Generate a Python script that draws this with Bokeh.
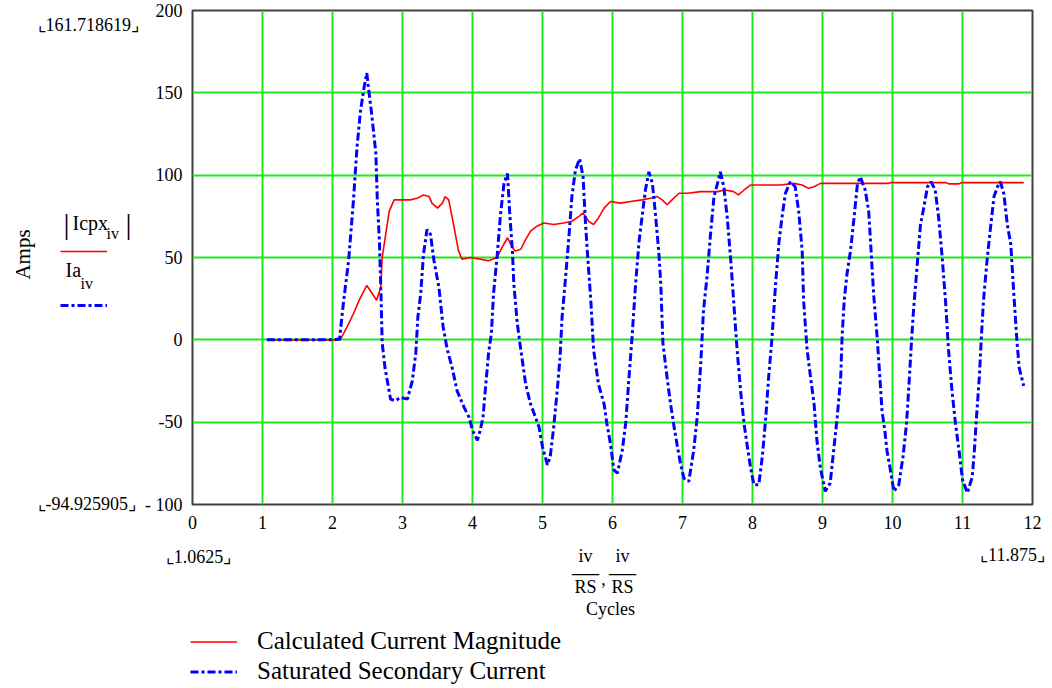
import math
from bokeh.plotting import figure
from bokeh.models import FixedTicker, Label, Legend, LegendItem, Range1d
from bokeh.layouts import column, row
from bokeh.embed import file_html
from bokeh.resources import INLINE

# ---------------- data ----------------
x_icpx = [1.0625, 2.0, 2.11, 2.21, 2.30, 2.38, 2.49, 2.57, 2.63, 2.69, 2.71, 2.76, 2.81, 2.88,
          2.97, 3.11, 3.21, 3.30, 3.38, 3.42, 3.50, 3.57, 3.61, 3.66, 3.73, 3.80, 3.85, 3.97,
          4.11, 4.23, 4.35, 4.42, 4.50, 4.57, 4.61, 4.69, 4.76, 4.83, 4.92, 5.02, 5.16, 5.30,
          5.42, 5.52, 5.58, 5.66, 5.73, 5.80, 5.88, 5.97, 6.11, 6.26, 6.42, 6.54, 6.64, 6.71,
          6.78, 6.85, 6.95, 7.07, 7.26, 7.38, 7.50, 7.61, 7.73, 7.80, 7.88, 7.97, 8.16, 8.40,
          8.59, 8.71, 8.80, 8.88, 8.97, 9.45, 9.95, 9.97, 10.40, 10.76, 10.81, 10.95, 10.98, 11.875]
icpx = [0, 0, 0, 8, 16, 24, 33, 28, 24, 32, 50, 64, 78, 85,
        85, 85, 86, 88, 87, 83, 80, 83, 87, 85, 70, 54, 49, 50,
        49, 48, 50, 56, 62, 56, 54, 55, 61, 66, 69, 71, 70, 71,
        72, 75, 77, 72, 70, 74, 80, 84, 83, 84, 85, 86, 87, 85,
        82, 85, 89, 89, 90, 90, 90, 91, 90, 88, 91, 94, 94, 94,
        95, 94, 92, 93, 95, 95, 95, 95.5, 95.5, 95.5, 94.7, 94.7, 95.5, 95.5]

x_ia = [1.0625, 1.5, 2.0, 2.1, 2.16, 2.23, 2.30, 2.35, 2.40, 2.45, 2.49, 2.52, 2.56, 2.62, 2.64,
        2.67, 2.69, 2.71, 2.75, 2.80, 2.83, 2.90, 2.97, 3.07, 3.14, 3.19, 3.22, 3.26, 3.30, 3.35,
        3.40, 3.45, 3.52, 3.58, 3.64, 3.71, 3.78, 3.88, 3.95, 4.00, 4.07, 4.11, 4.15, 4.19, 4.23,
        4.27, 4.30, 4.35, 4.40, 4.45, 4.50, 4.53, 4.57, 4.59, 4.64, 4.69, 4.76, 4.83, 4.90, 4.95,
        5.00, 5.07, 5.11, 5.16, 5.21, 5.25, 5.28, 5.33, 5.38, 5.42, 5.47, 5.53, 5.58, 5.61, 5.64,
        5.69, 5.73, 5.80, 5.88, 5.92, 5.97, 6.02, 6.07, 6.14, 6.19, 6.23, 6.28, 6.33, 6.38, 6.42,
        6.47, 6.52, 6.57, 6.61, 6.66, 6.69, 6.72, 6.78, 6.83, 6.88, 6.92, 6.97, 7.02, 7.09, 7.16,
        7.21, 7.26, 7.30, 7.35, 7.40, 7.45, 7.50, 7.54, 7.59, 7.64, 7.69, 7.73, 7.78, 7.83, 7.88,
        7.92, 7.97, 8.02, 8.09, 8.14, 8.19, 8.23, 8.28, 8.33, 8.38, 8.42, 8.47, 8.54, 8.61, 8.66,
        8.71, 8.73, 8.78, 8.83, 8.88, 8.92, 8.97, 9.04, 9.11, 9.16, 9.21, 9.26, 9.28, 9.31, 9.35,
        9.40, 9.45, 9.50, 9.54, 9.61, 9.66, 9.70, 9.73, 9.78, 9.82, 9.85, 9.89, 9.92, 9.97, 10.02,
        10.09, 10.15, 10.20, 10.23, 10.27, 10.30, 10.35, 10.40, 10.45, 10.50, 10.55, 10.61, 10.66,
        10.71, 10.76, 10.80, 10.85, 10.90, 10.95, 11.00, 11.07, 11.14, 11.17, 11.20, 11.24, 11.27,
        11.30, 11.35, 11.40, 11.45, 11.50, 11.54, 11.59, 11.64, 11.69, 11.73, 11.78, 11.81, 11.875]
ia = [0, 0, 0, 0.5, 24, 48, 85, 117, 139, 153, 162, 151, 137, 113, 85,
      60, 32, -2, -17, -29, -36, -37, -35, -36, -25, -8, 14, 28, 52, 67,
      64, 48, 32, 8, -6, -17, -31, -41, -47, -55, -61, -55, -47, -27, -8,
      4, 28, 50, 76, 95, 101, 78, 54, 34, 10, -6, -27, -39, -47, -53,
      -65, -76, -71, -53, -31, -11, 14, 38, 64, 87, 103, 110, 99, 74, 54,
      24, -6, -27, -39, -51, -63, -79, -81, -67, -50, -26, 2, 34, 60, 74,
      91, 102, 95, 78, 54, 34, -2, -23, -39, -53, -63, -75, -84, -86, -67,
      -47, -15, 18, 38, 64, 87, 95, 102, 93, 74, 48, 24, -6, -31, -51,
      -63, -77, -88, -88, -71, -47, -23, 2, 34, 60, 74, 89, 96, 93, 78,
      54, 24, -6, -23, -39, -61, -78, -92, -87, -67, -47, -23, 2, 24, 40,
      54, 74, 95, 99, 91, 78, 50, 28, 2, -23, -43, -55, -67, -79, -92,
      -88, -71, -51, -31, -2, 18, 44, 70, 81, 93, 96, 91, 74,
      50, 22, -6, -31, -51, -67, -85, -93, -83, -67, -47, -23, 2,
      24, 48, 68, 87, 93, 96, 89, 70, 58, 30, -2, -17, -28]

y_ticks = [-100, -50, 0, 50, 100, 150, 200]
y_tick_labels = ["- 100", "-50", "0", "50", "100", "150", "200"]
x_ticks = list(range(0, 13))

series_names = ["Calculated Current Magnitude", "Saturated Secondary Current"]
y_limits_text = ["\u231e161.718619\u231f", "\u231e-94.925905\u231f"]
x_limits_text = ["\u231e1.0625\u231f", "\u231e11.875\u231f"]
y_title = "Amps"
x_title = "Cycles"

SERIF = "Liberation Serif"
RED = "#ff0000"
BLUE = "#0000ff"
DASH = "8 3 3 3"

# ---------------- main chart ----------------
W, H = 1052, 688
LEFT_W = 142           # left text strip
MAIN_H = 540           # main chart height
TOP, BOTTOM = 10, 504  # frame edges (page pixels)
p = figure(width=W - LEFT_W, height=MAIN_H, x_range=Range1d(0, 12), y_range=Range1d(-100, 200),
           output_backend="svg", toolbar_location=None,
           min_border_left=192 - LEFT_W, min_border_right=20, min_border_top=TOP,
           min_border_bottom=MAIN_H - BOTTOM)
p.background_fill_color = "white"
p.border_fill_color = "white"
p.outline_line_color = "#404040"
p.outline_line_width = 2

red = p.line(x_icpx, icpx, line_color=RED, line_width=1.6)
blue = p.line(x_ia, ia, line_color=BLUE, line_width=3, line_dash=DASH)

for ax in (p.xaxis[0], p.yaxis[0]):
    ax.axis_line_color = None
    ax.major_tick_line_color = None
    ax.minor_tick_line_color = None
    ax.major_tick_out = 0
    ax.major_tick_in = 0
    ax.minor_tick_out = 0
    ax.minor_tick_in = 0
    ax.major_label_text_font = SERIF
    ax.major_label_text_font_size = "18px"
    ax.major_label_text_color = "black"

p.xaxis.ticker = FixedTicker(ticks=x_ticks)
p.yaxis.ticker = FixedTicker(ticks=y_ticks)
p.yaxis.major_label_overrides = {t: s for t, s in zip(y_ticks, y_tick_labels)}
p.xaxis.major_label_standoff = 11
p.yaxis.major_label_standoff = 10

p.xgrid.ticker = FixedTicker(ticks=x_ticks)
p.ygrid.ticker = FixedTicker(ticks=y_ticks)
for g in (p.xgrid[0], p.ygrid[0]):
    g.grid_line_color = "#1ee81e"
    g.grid_line_width = 2
    g.grid_line_alpha = 1.0


def text_panel(width, top_px, bottom_px):
    # plain drawing strip whose frame spans page rows top_px..bottom_px;
    # data y = bottom_px - page y, so labels are placed in page pixels
    height = bottom_px - top_px
    f = figure(width=width, height=height, x_range=Range1d(0, width),
               y_range=Range1d(0, height),
               x_axis_type=None, y_axis_type=None, output_backend="svg",
               toolbar_location=None, min_border=0, frame_align=False)
    f.outline_line_color = None
    f.background_fill_color = "white"
    f.border_fill_color = "white"
    return f


def lab(f, base, text, x, y, size, align="left", angle=0.0):
    f.add_layout(Label(x=x, y=base - y, text=text, text_font=SERIF,
                       text_font_size=size, text_align=align, text_baseline="middle",
                       text_color="black", angle=angle, angle_units="deg"))


def legend_style(leg, gh, lh, spacing, standoff, size):
    leg.glyph_width = 47
    leg.glyph_height = gh
    leg.label_height = lh
    leg.label_standoff = standoff
    leg.label_text_font = SERIF
    leg.label_text_font_size = size
    leg.label_text_color = "black"
    leg.spacing = spacing
    leg.padding = 0
    leg.margin = 0
    leg.border_line_color = None
    leg.background_fill_alpha = 0


NAN = [float("nan")]

# ---------------- left strip: limits, y title, trace names ----------------
lf = text_panel(LEFT_W, 0, MAIN_H)
lab(lf, MAIN_H, y_limits_text[0], 37, 24, "18px")
lab(lf, MAIN_H, y_limits_text[1], 37, 503, "18px")
lab(lf, MAIN_H, y_title, 22, 254, "21px", align="center", angle=90)
lab(lf, MAIN_H, "|", 63, 223, "30px")
lab(lf, MAIN_H, "Icpx", 72, 222, "20px")
lab(lf, MAIN_H, "iv", 106, 233, "16px")
lab(lf, MAIN_H, "|", 125, 223, "30px")
lab(lf, MAIN_H, "Ia", 65, 269, "20px")
lab(lf, MAIN_H, "iv", 80, 283, "16px")

l_red = lf.line(NAN, NAN, line_color=RED, line_width=1.6)
l_blue = lf.line(NAN, NAN, line_color=BLUE, line_width=3, line_dash=DASH)
left_leg = Legend(items=[LegendItem(label=" ", renderers=[l_red]),
                         LegendItem(label=" ", renderers=[l_blue])],
                  location=(60, MAIN_H - 315))
legend_style(left_leg, 20, 20, 34, 2, "8px")
lf.add_layout(left_leg)

# ---------------- bottom strip: limits, x title, legend ----------------
bf = text_panel(W, MAIN_H, H)
lab(bf, H, x_limits_text[0], 198, 556, "18px", align="center")
lab(bf, H, x_limits_text[1], 1012, 554, "18px", align="center")
for cx in (585, 622):
    lab(bf, H, "iv", cx, 555, "18px", align="center")
    lab(bf, H, "\u2014", cx, 571, "27px", align="center")
    lab(bf, H, "RS", cx, 586, "18px", align="center")
lab(bf, H, ",", 603, 578, "18px", align="center")
lab(bf, H, x_title, 610, 608, "18px", align="center")

b_red = bf.line(NAN, NAN, line_color=RED, line_width=1.6)
b_blue = bf.line(NAN, NAN, line_color=BLUE, line_width=3, line_dash=DASH)
bot_leg = Legend(items=[LegendItem(label=series_names[0], renderers=[b_red]),
                        LegendItem(label=series_names[1], renderers=[b_blue])],
                 location=(190, 3))
legend_style(bot_leg, 27, 27, 2, 20, "25px")
bf.add_layout(bot_leg)

layout = column(row(lf, p), bf)
open("out.html", "w").write(file_html(layout, INLINE))
